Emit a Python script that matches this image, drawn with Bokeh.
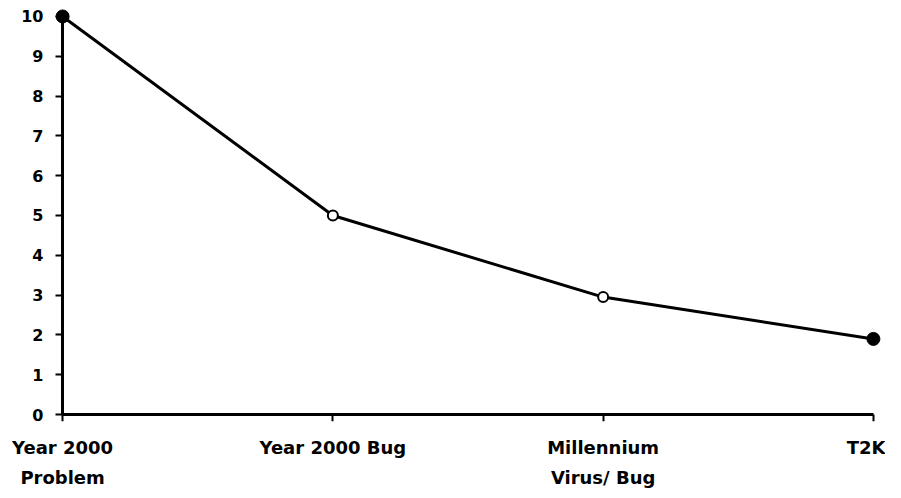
from bokeh.plotting import figure
from bokeh.models import FixedTicker, Range1d, LinearAxis
from bokeh.embed import file_html
from bokeh.resources import INLINE

categories_line1 = ["Year 2000", "Year 2000 Bug", "Millennium", "T2K"]
categories_line2 = ["Problem", "", "Virus/ Bug", ""]
values = [10, 5, 2.95, 1.9]
y_ticks = list(range(0, 11))

xs = list(range(len(categories_line1)))

p = figure(width=885, height=490, output_backend="svg", toolbar_location=None,
           x_range=Range1d(-0.03, 3.03), y_range=Range1d(-0.175, 10.2),
           min_border_left=54, min_border_right=4, min_border_top=8, min_border_bottom=68)
p.outline_line_color = None
p.xgrid.visible = False
p.ygrid.visible = False
p.background_fill_color = "white"

p.line(xs, values, line_color="black", line_width=3)
filled = [0, len(xs) - 1]
p.scatter([xs[i] for i in filled], [values[i] for i in filled], size=13,
          fill_color="black", line_color="black")
hollow = [1, 2]
p.scatter([xs[i] for i in hollow], [values[i] for i in hollow], size=10,
          fill_color="white", line_color="black", line_width=2)

font = "DejaVu Sans"

def label_only(ax, ticks, overrides, size, standoff):
    ax.ticker = FixedTicker(ticks=ticks)
    if overrides is not None:
        ax.major_label_overrides = overrides
    ax.axis_line_color = None
    ax.major_tick_line_color = None
    ax.minor_tick_line_color = None
    ax.major_tick_in = 0
    ax.major_tick_out = 0
    ax.major_label_standoff = standoff
    ax.major_label_text_font = font
    ax.major_label_text_font_style = "bold"
    ax.major_label_text_font_size = size
    ax.major_label_text_color = "black"

# x labels, first line
xa = p.xaxis[0]
label_only(xa, xs, {i: c for i, c in zip(xs, categories_line1)}, "18px", 15)
# x labels, second line
xa2 = LinearAxis()
p.add_layout(xa2, "below")
label_only(xa2, xs, {i: (c if c else " ") for i, c in zip(xs, categories_line2)}, "18px", 6)

# y labels
ya = p.yaxis[0]
label_only(ya, y_ticks, None, "16px", 11)

def line_only(ax, ticks, bounds):
    ax.ticker = FixedTicker(ticks=ticks)
    ax.fixed_location = 0
    ax.bounds = bounds
    ax.axis_line_width = 3
    ax.axis_line_color = "black"
    ax.major_tick_line_width = 2
    ax.major_tick_in = 7
    ax.major_tick_out = 0
    ax.minor_tick_line_color = None
    ax.major_label_standoff = 0
    ax.major_label_overrides = {t: "" for t in ticks}
    ax.major_label_text_font_size = "1px"

# axis lines at the data origin; placed on the opposite sides so that
# "inward" ticks point down / left, as in the reference
xl = LinearAxis()
p.add_layout(xl, "above")
line_only(xl, xs, (0, 3))
yl = LinearAxis()
p.add_layout(yl, "right")
line_only(yl, y_ticks, (0, 10))

open("out.html", "w").write(file_html(p, INLINE))
